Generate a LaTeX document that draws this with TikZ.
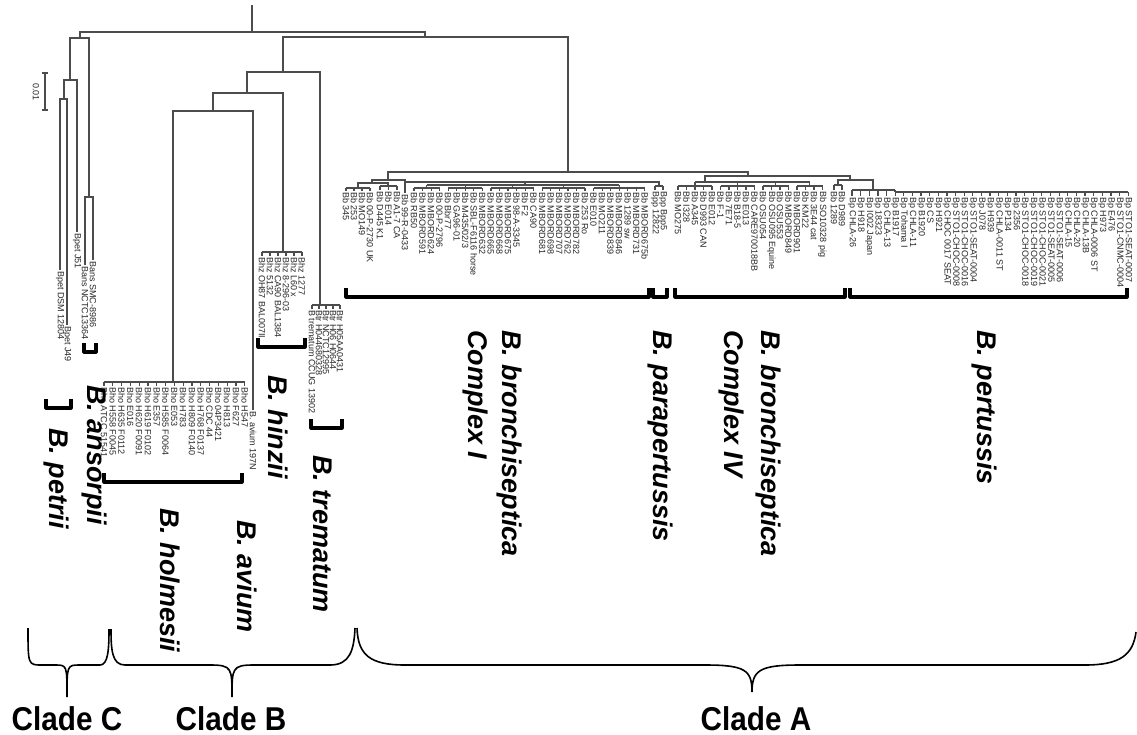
\documentclass[tikz,border=0pt]{standalone}
\usepackage{fontspec}
\setmainfont{Liberation Sans}
\usetikzlibrary{positioning}

\tikzset{
  branch/.style={draw=black!70, line width=1.2pt},
  tip/.style={font=\fontsize{9}{9}\selectfont, text=black!85, rotate=-90, anchor=west, inner sep=0.6pt},
  taxon/.style={font=\fontsize{27}{30}\selectfont\bfseries\itshape, rotate=-90, anchor=west, inner sep=0pt},
  cladelabel/.style={font=\fontsize{33}{35}\selectfont\bfseries, anchor=base, inner sep=0pt, xscale=.9},
  bracket/.style={draw=black, line width=3.2pt, line join=round},
  brace/.style={draw=black, line width=1.6pt},
}

\begin{document}
\begin{tikzpicture}[x=1pt, y=-1pt]
  \useasboundingbox (0,0) rectangle (1137,734);

  % root and first split
  \coordinate (root) at (252,5);
  \coordinate (r0) at (252,32);
  \coordinate (cC) at (80,38);
  \coordinate (nAB) at (425,37);
  \draw [branch] (root) -- (r0);
  \draw [branch] (r0) -| (cC);
  \draw [branch] (r0) -| (nAB);

  % scale bar
  \draw [branch] (42,73) -- (48,73) (45,73) -- (45,110) (42,110) -- (48,110);
  \node [tip, anchor=center] (sbar) at (36,92) {0.01};

  % clade C
  \coordinate (nPet) at (70,80);
  \coordinate (nPet2) at (64,99);
  \coordinate (nAns) at (89,197);
  \draw [branch] (cC) -| (nPet);
  \draw [branch] (cC) -| (nAns);
  \draw [branch] (nPet) -| (nPet2);
  \draw [branch] (nPet) -| (77,232) node [tip] (pet3) {Bpet J51};
  \draw [branch] (nPet2) -| (60,270) node [tip] (pet1) {Bpet DSM 12804};
  \draw [branch] (nPet2) -| (67,325) node [tip] (pet2) {Bpet J49};
  \draw [branch] (nAns) -| (85,265) node [tip] (ans1) {Bans NCTC13364};
  \draw [branch] (nAns) -| (93,260) node [tip] (ans2) {Bans SMC-8986};

  % clade B
  \coordinate (cB) at (283,72);
  \coordinate (nTre) at (320,305);
  \coordinate (nB2) at (247,93);
  \coordinate (nHin) at (283,252);
  \coordinate (nB3) at (213,111);
  \coordinate (nHol) at (173,382);
  \draw [branch] (nAB) -| (cB);
  \draw [branch] (cB) -| (nTre);
  \draw [branch] (cB) -| (nB2);
  \draw [branch] (nB2) -| (nHin);
  \draw [branch] (nB2) -| (nB3);
  \draw [branch] (nB3) -| (nHol);
  \draw [branch] (nB3) -| (253,410) node [tip] (avi) {B. avium 197N};

  \draw [branch] (104,382) -- (245,382);
  \foreach \t [count=\i from 0] in {Bho ATCC 51541, Bho H558 F0045, Bho H635 F0112, Bho E016,
      Bho H620 F0091, Bho H619 F0102, Bho E357, Bho H585 F0064, Bho E053, Bho H783,
      Bho H809 F0140, Bho H768 F0137, Bho CDC 44, Bho 04P3421, Bho H813, Bho F627, Bho H547}
    \draw [branch] ({104+8.8*\i},382) -- ++(0,4) node [tip] (ho\i) {\t};

  \draw [branch] (262,252) -- (302,252);
  \foreach \t [count=\i from 0] in {Bhz OH87 BAL007II, Bhz 5132, Bhz CA90 BAL1384,
      Bhz 8-296-03, Bhz L60 x, Bhz 1277}
    \draw [branch] ({262+8*\i},252) -- ++(0,4) node [tip] (hz\i) {\t};

  \draw [branch] (312,305) -- (340,305);
  \foreach \t [count=\i from 0] in {B trematum CCUG 13902, Btr H044680328, Btr NCTC12995,
      Btr H06 H0644, Btr H05AA0431}
    \draw [branch] ({312+7*\i},305) -- ++(0,4) node [tip] (tr\i) {\t};

  % clade A
  \coordinate (cA) at (568,172);
  \coordinate (nL) at (388,180);
  \coordinate (nL1) at (372,183);
  \coordinate (nL2) at (405,182);
  \coordinate (g1) at (358,188);
  \coordinate (g2) at (388,186);
  \coordinate (g4) at (525,185);
  \coordinate (gPp) at (659,186);
  \coordinate (nR) at (748,176);
  \coordinate (nC4) at (705,182);
  \coordinate (nR2) at (850,180);
  \coordinate (g4b) at (838,185);
  \coordinate (nBp) at (873,190);
  \coordinate (nBp2) at (895,192);
  \draw [branch] (nAB) -| (cA);
  \draw [branch] (cA) -| (nL);
  \draw [branch] (cA) -| (nR);
  \draw [branch] (nL) -| (nL1);
  \draw [branch] (nL) -| (nL2);
  \draw [branch] (nL1) -| (g1);
  \draw [branch] (nL1) -| (g2);
  \draw [branch] (nL2) -| (g4);
  \draw [branch] (nL2) -| (gPp);
  \draw [branch] (nL2) -- (405,193) node [tip] (bb0) {Bb 99-R-0433};
  \draw [branch] (nR) -| (nC4);
  \draw [branch] (nR) -| (nR2);
  \draw [branch] (nR2) -| (g4b);
  \draw [branch] (nR2) -| (nBp);

  \draw [branch] (346,188) -- (370,188);
  \foreach \t [count=\i from 0] in {Bb 345, Bb 253, Bb MO149, Bb 00-P-2730 UK}
    \draw [branch] ({346+8*\i},188) -- ++(0,3) node [tip] (ba\i) {\t};
  \draw [branch] (380,186) -- (397,186);
  \foreach \t [count=\i from 0] in {Bb D445 K1, Bb E014, Bb A1-7 CA}
    \draw [branch] ({380+8.5*\i},186) -- ++(0,4) node [tip] (bc\i) {\t};

  \foreach \a/\b in {0/3,4/8,9/14,15/20,21/27} {
    \draw [branch] ({414+8.55*\a},188) -- ({414+8.55*\b},188);
    \draw [branch] ({414+8.55*(\a+\b)/2},185) -- ++(0,3);
  }
  \draw [branch] ({414+8.55*1.5},185) -- ({414+8.55*24},185);
  \foreach \t [count=\i from 0] in {Bb RB50, Bb MBORD591, Bb MBORD624, Bb 00-P-2796, Bb Bbr77,
      Bb GA96-01, Bb M435/02/3, Bb SBL-F6116 horse, Bb MBORD632, Bb MBORD665, Bb MBORD668,
      Bb MBORD675, Bb 98-A-3345, Bb F2, Bb CA90, Bb MBORD681, Bb MBORD698, Bb MBORD707,
      Bb MBORD762, Bb MBORD782, Bb 253 Ro, Bb E010, Bb MO211, Bb MBORD839, Bb MBORD846,
      Bb 1289 sw, Bb MBORD731, Bb MBORD675b}
    \draw [branch] ({414+8.55*\i},188) -- ++(0,3) node [tip] (bd\i) {\t};

  \draw [branch] (655,186) -- (663,186);
  \foreach \t [count=\i from 0] in {Bpp 12822, Bpp Bpp5}
    \draw [branch] ({655+8*\i},186) -- ++(0,4) node [tip] (pp\i) {\t};

  \foreach \a/\b in {0/4,5/9,10/13,14/17} {
    \draw [branch] ({678+8.5*\a},186) -- ({678+8.5*\b},186);
    \draw [branch] ({678+8.5*(\a+\b)/2},182) -- ++(0,4);
  }
  \draw [branch] (695,182) -- (809.75,182);
  \foreach \t [count=\i from 0] in {Bb MO275, Bb I328, Bb A345, Bb D993 CAN, Bb E012, Bb F-1,
      Bb 7E71, Bb B18-5, Bb E013, Bb CARE970018BB, Bb OSU054, Bb OSU095 Equine, Bb OSU553,
      Bb MBORD849, Bb MBORD901, Bb KM22, Bb 3E44 cat, Bb SO10328 pig}
    \draw [branch] ({678+8.5*\i},186) -- ++(0,4) node [tip] (be\i) {\t};
  \draw [branch] (834,185) -- (842,185);
  \foreach \t [count=\i from 0] in {Bb 1289, Bb D989}
    \draw [branch] ({834+8*\i},185) -- ++(0,5) node [tip] (bf\i) {\t};

  \draw [branch] (852,190) -- (nBp2 |- nBp);
  \draw [branch] (nBp2 |- nBp) -- (nBp2);
  \draw [branch] (nBp2) -- (1128,192);
  \foreach \t [count=\i from 0] in {Bp CHLA-26, Bp H918, Bp I002 Japan, Bp 18323, Bp CHLA-13,
      Bp B1917}
    \draw [branch] ({852+8.63*\i},190) -- ++(0,6) node [tip] (bp\i) {\t};
  \foreach \t [count=\i from 6] in {Bp Tohama I, Bp CHLA-11, Bp B1920, Bp CS, Bp H921,
      Bp CHOC 0017 SEAT, Bp STO1-CHOC-0008, Bp STO1-CHOC-0016, Bp STO1-SEAT-0004, Bp J078,
      Bp H939, Bp CHLA-0011 ST, Bp P134, Bp 2356, Bp STO1-CHOC-0018, Bp STO1-CHOC-0019,
      Bp STO1-CHOC-0021, Bp STO1-SEAT-0005, Bp STO1-SEAT-0006, Bp CHLA-15, Bp CHLA-20,
      Bp CHLA-13B, Bp CHLA-0006 ST, Bp H973, Bp E476, Bp STO1-CNMC-0004, Bp STO1-SEAT-0007}
    \draw [branch] ({852+8.63*\i},192) -- ++(0,4) node [tip] (bp\i) {\t};

  % brackets under the species
  \draw [bracket] (84,343) |- (96,352) -- (96,343);
  \draw [bracket] (46,399) |- (71,408) -- (71,399);
  \draw [bracket] (104,473) |- (242,482) -- (242,473);
  \draw [bracket] (258,338) |- (305,347) -- (305,338);
  \draw [bracket] (311,419) |- (342,428) -- (342,419);
  \draw [bracket] (346,288) |- (649,297) -- (649,288);
  \draw [bracket] (653,288) |- (667,297) -- (667,288);
  \draw [bracket] (675,288) |- (845,297) -- (845,288);
  \draw [bracket] (850,288) |- (1127,297) -- (1127,288);

  % species names
  \node [taxon] (ansorpii) at (94,385) {B. ansorpii};
  \node [taxon] (petrii) at (56,428) {B. petrii};
  \node [taxon] (holmesii) at (170,508) {B. holmesii};
  \node [taxon] (avium) at (247,520) {B. avium};
  \node [taxon] (hinzii) at (278,375) {B. hinzii};
  \node [taxon] (trematum) at (323,455) {B. trematum};
  \node [taxon] (bbI) at (509,330) {B. bronchiseptica};
  \node [taxon] (cxI) at (475,330) {Complex I};
  \node [taxon] (para) at (660,330) {B. parapertussis};
  \node [taxon] (bbIV) at (768,330) {B. bronchiseptica};
  \node [taxon] (cxIV) at (731,330) {Complex IV};
  \node [taxon] (pert) at (984,330) {B. pertussis};

  % clade braces
  \draw [brace] (28,628) .. controls (28,665) and (28,665) .. (42,665) -- (55,665)
    .. controls (67,665) and (67,665) .. (67,697) .. controls (67,665) and (67,665) .. (80,665)
    -- (100,665) .. controls (108,665) and (109,650) .. (109,629);
  \draw [brace] (111,629) .. controls (111,650) and (112,665) .. (125,665) -- (210,665)
    .. controls (232,665) and (232,668) .. (232,697) .. controls (232,668) and (232,665) .. (254,665)
    -- (330,665) .. controls (350,665) and (354,650) .. (355,628);
  \draw [brace] (357,628) .. controls (358,655) and (370,665) .. (405,665) -- (705,665)
    .. controls (745,665) and (752,670) .. (752,692) .. controls (752,670) and (760,665) .. (800,665)
    -- (1085,665) .. controls (1120,665) and (1133,655) .. (1136,632);

  \node [cladelabel] (cladeC) at (67,730) {Clade C};
  \node [cladelabel] (cladeB) at (231,730) {Clade B};
  \node [cladelabel] (cladeA) at (756,730) {Clade A};
\end{tikzpicture}
\end{document}
